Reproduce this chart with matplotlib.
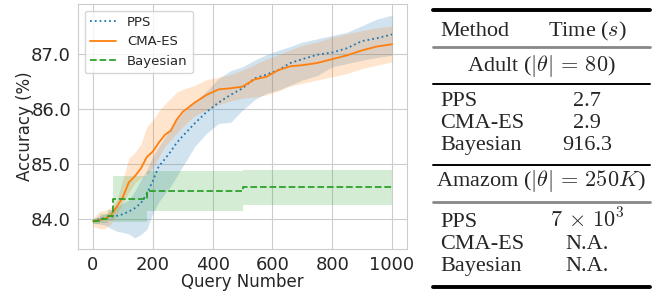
"""Accuracy vs. query number for PPS / CMA-ES / Bayesian, with a timing table."""

import matplotlib

matplotlib.use("Agg")
import matplotlib.pyplot as plt
import seaborn as sns
from matplotlib.lines import Line2D

# query grid shared by PPS and CMA-ES curves
QUERIES = [0, 20, 40, 60, 80, 100, 120, 140, 160, 180, 200, 220, 240, 260, 280, 300,
           340, 380, 420, 460, 500, 540, 580, 620, 660, 700, 750, 800, 850, 900, 950, 1000]

PPS_MEAN = [83.95, 83.99, 84.01, 84.03, 84.05, 84.08, 84.13, 84.19, 84.28, 84.45, 84.68,
            84.95, 85.08, 85.22, 85.38, 85.50, 85.73, 85.94, 86.11, 86.25, 86.37, 86.55,
            86.62, 86.70, 86.83, 86.90, 86.98, 87.02, 87.10, 87.23, 87.28, 87.35]
PPS_UPPER = [84.00, 84.05, 84.08, 84.15, 84.22, 84.28, 84.34, 84.50, 84.70, 84.89, 85.13,
             85.31, 85.47, 85.63, 85.79, 85.92, 86.12, 86.32, 86.55, 86.69, 86.76, 86.88,
             86.98, 87.06, 87.13, 87.21, 87.27, 87.33, 87.39, 87.51, 87.63, 87.70]
PPS_LOWER = [83.92, 83.90, 83.88, 83.82, 83.77, 83.75, 83.72, 83.65, 83.71, 83.80, 84.10,
             84.30, 84.45, 84.59, 84.77, 84.95, 85.31, 85.55, 85.73, 85.75, 85.97, 86.16,
             86.28, 86.34, 86.43, 86.52, 86.60, 86.76, 86.82, 86.88, 86.93, 86.97]

CMA_MEAN = [83.95, 83.97, 84.00, 84.06, 84.22, 84.39, 84.66, 84.77, 84.91, 85.12, 85.22,
            85.38, 85.52, 85.60, 85.80, 85.94, 86.11, 86.25, 86.35, 86.37, 86.40, 86.53,
            86.58, 86.70, 86.77, 86.79, 86.83, 86.90, 86.97, 87.06, 87.13, 87.17]
CMA_UPPER = [84.00, 84.12, 84.15, 84.20, 84.34, 84.71, 85.10, 85.20, 85.35, 85.67, 85.79,
             85.95, 86.08, 86.19, 86.30, 86.35, 86.42, 86.53, 86.57, 86.62, 86.70, 86.80,
             86.90, 86.98, 87.07, 87.15, 87.21, 87.30, 87.36, 87.42, 87.47, 87.50]
CMA_LOWER = [83.86, 83.82, 83.82, 83.90, 84.08, 84.28, 84.48, 84.65, 84.74, 84.80, 84.92,
             85.12, 85.31, 85.43, 85.55, 85.67, 85.87, 85.97, 86.07, 86.14, 86.19, 86.21,
             86.25, 86.32, 86.41, 86.46, 86.52, 86.58, 86.64, 86.73, 86.79, 86.85]

# Bayesian is a step function
BAYES_QUERIES = [0, 25, 50, 68, 180, 500, 1000]
BAYES_MEAN = [83.95, 84.00, 84.05, 84.35, 84.51, 84.57, 84.57]
BAYES_UPPER = [84.00, 84.08, 84.15, 84.77, 84.87, 84.89, 84.89]
BAYES_LOWER = [83.90, 83.92, 83.95, 83.93, 84.14, 84.25, 84.25]

Y_TICKS = [84.0, 85.0, 86.0, 87.0]
X_TICKS = [0, 200, 400, 600, 800, 1000]

TABLE_HEADER = ["Method", r"Time ($s$)"]
TABLE_SECTIONS = [r"Adult ($|\theta|\,=\,80$)", r"Amazom ($|\theta|\,=\,250K$)"]
TABLE_METHODS = ["PPS", "CMA-ES", "Bayesian"]
TABLE_ADULT = ["2.7", "2.9", "916.3"]
TABLE_AMAZON = [r"$7\,\times\,10^3$", "N.A.", "N.A."]

W, H = 665, 297

sns.set_style("whitegrid")
plt.rcParams["font.family"] = ["DejaVu Sans"]
plt.rcParams["mathtext.fontset"] = "cm"

fig = plt.figure(figsize=(W / 100, H / 100), dpi=100)
ax = fig.add_axes([78 / W, 1 - 249 / H, (407 - 78) / W, (249 - 4) / H])

ax.fill_between(QUERIES, PPS_LOWER, PPS_UPPER, color="tab:blue", alpha=0.2, linewidth=0)
ax.fill_between(QUERIES, CMA_LOWER, CMA_UPPER, color="tab:orange", alpha=0.2, linewidth=0)
ax.fill_between(BAYES_QUERIES, BAYES_LOWER, BAYES_UPPER, step="post",
                color="tab:green", alpha=0.2, linewidth=0)

ax.plot(QUERIES, PPS_MEAN, color="tab:blue", linestyle=":", linewidth=1.3, label="PPS")
ax.plot(QUERIES, CMA_MEAN, color="tab:orange", linestyle="-", linewidth=1.3, label="CMA-ES")
ax.step(BAYES_QUERIES, BAYES_MEAN, where="post", color="tab:green", linestyle="--",
        linewidth=1.3, label="Bayesian")

ax.set_xticks(X_TICKS)
ax.set_yticks(Y_TICKS)
ax.set_yticklabels([f"{v:.1f}" for v in Y_TICKS])
ax.tick_params(axis="both", labelsize=13, pad=1.5)
ax.set_xlabel("Query Number", fontsize=12, labelpad=-1)
ax.set_ylabel("Accuracy (%)", fontsize=12, labelpad=-2)
ax.legend(loc="upper left", fontsize=9.5, frameon=True, borderaxespad=0.5)

# ---- timing table, drawn with figure text and rules ----
serif = "Liberation Serif"
TS = 16


def fx(px):
    return px / W


def fy(py):
    return 1 - py / H


def rule(py, lw, color="black"):
    fig.add_artist(Line2D([fx(433), fx(650)], [fy(py), fy(py)], transform=fig.transFigure,
                          color=color, linewidth=lw))


def cell(px, py, s, ha="left"):
    fig.text(fx(px), fy(py), s, family=serif, fontsize=TS, va="baseline", ha=ha)


left_x, val_x, mid_x = 440, 587, 541
cell(left_x, 36, TABLE_HEADER[0])
cell(val_x, 36, TABLE_HEADER[1], "center")
cell(mid_x, 71, TABLE_SECTIONS[0], "center")
cell(mid_x, 186, TABLE_SECTIONS[1], "center")

adult_rows = [106, 128, 150]
amazon_rows = [227, 249, 271]
for name, v1, v2, y1, y2 in zip(TABLE_METHODS, TABLE_ADULT, TABLE_AMAZON, adult_rows, amazon_rows):
    cell(left_x, y1, name)
    cell(val_x, y1, v1, "center")
    cell(left_x, y2, name)
    cell(val_x, y2, v2, "center")

rule(10, 2.8)
rule(47, 2.0, "#888888")
rule(84, 1.4)
rule(165, 1.4)
rule(202, 2.0, "#888888")
rule(287, 2.8)

fig.savefig("out.png", dpi=100)
